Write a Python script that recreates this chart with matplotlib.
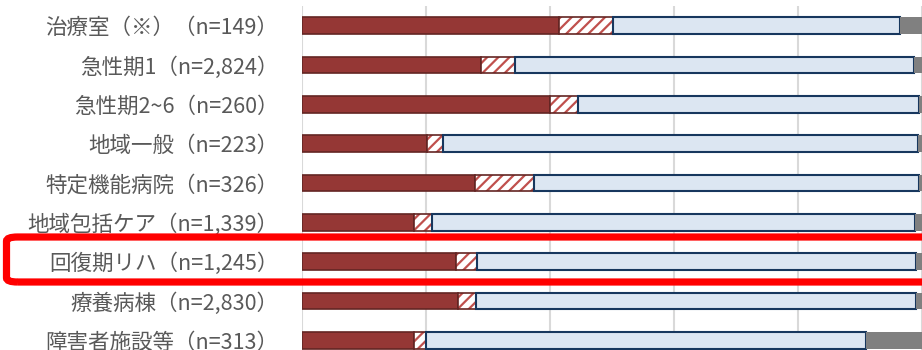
import numpy as np
import matplotlib
matplotlib.use("Agg")
import matplotlib.pyplot as plt
from matplotlib.patches import FancyBboxPatch

plt.rcParams['font.family'] = ['Noto Sans CJK JP', 'DejaVu Sans']
plt.rcParams['hatch.linewidth'] = 1.6

# categories (top to bottom) and shares in percent
labels = ["治療室（※）（n=149）", "急性期1（n=2,824）", "急性期2~6（n=260）",
          "地域一般（n=223）", "特定機能病院（n=326）", "地域包括ケア（n=1,339）",
          "回復期リハ（n=1,245）", "療養病棟（n=2,830）", "障害者施設等（n=313）"]
solid_red = [41.5, 28.9, 40.0, 20.1, 27.9, 18.1, 24.9, 25.1, 18.0]
hatched = [8.7, 5.5, 4.5, 2.7, 9.5, 2.8, 3.3, 3.0, 2.0]
light_blue = [46.3, 64.3, 55.0, 76.6, 62.1, 77.9, 70.8, 70.9, 70.9]
gray = [3.5, 1.3, 0.5, 0.6, 0.5, 1.2, 1.0, 1.0, 9.1]

W, H = 922, 350
fig = plt.figure(figsize=(W / 100, H / 100), dpi=100)
ax = fig.add_axes([302 / W, 1 - 360 / H, 620 / W, 354 / H])

y = np.arange(len(labels))
h = 0.43
s1 = np.array(solid_red)
s2 = np.array(hatched)
s3 = np.array(light_blue)
s4 = np.array(gray)

ax.barh(y, s1, height=h, color='#953735', edgecolor='#632523', linewidth=1.2, zorder=3)
ax.barh(y, s2, left=s1, height=h, color='white', edgecolor='#C0504D', hatch='///',
        linewidth=0, zorder=3)
ax.barh(y, s2, left=s1, height=h, fill=False, edgecolor='#632523', linewidth=1.2, zorder=3)
ax.barh(y, s3, left=s1 + s2, height=h, color='#DCE6F2', edgecolor='#17375E',
        linewidth=1.5, zorder=3)
ax.barh(y, s4, left=s1 + s2 + s3, height=h, color='#808080', linewidth=0, zorder=3)

ax.set_xlim(0, 100)
ax.set_ylim(len(labels) - 0.5, -0.5)
ax.set_xticks(np.arange(0, 101, 20))
ax.xaxis.grid(True, color='#D9D9D9', linewidth=1.5, zorder=0)
ax.set_axisbelow(True)
ax.tick_params(axis='x', length=0, labelbottom=False)
ax.set_yticks(y, labels)
ax.tick_params(axis='y', length=0, pad=17, labelsize=15.5, labelcolor='#595959')
for sp in ax.spines.values():
    sp.set_visible(False)

# red highlight box around one row
box = FancyBboxPatch((6.5 / W, 1 - 282 / H), 940 / W, 45 / H,
                     boxstyle="round,pad=0,rounding_size=0.012",
                     transform=fig.transFigure, fill=False,
                     edgecolor='#FF0000', linewidth=5.2, clip_on=False, zorder=10)
fig.patches.append(box)

fig.savefig('out.png', dpi=100)
